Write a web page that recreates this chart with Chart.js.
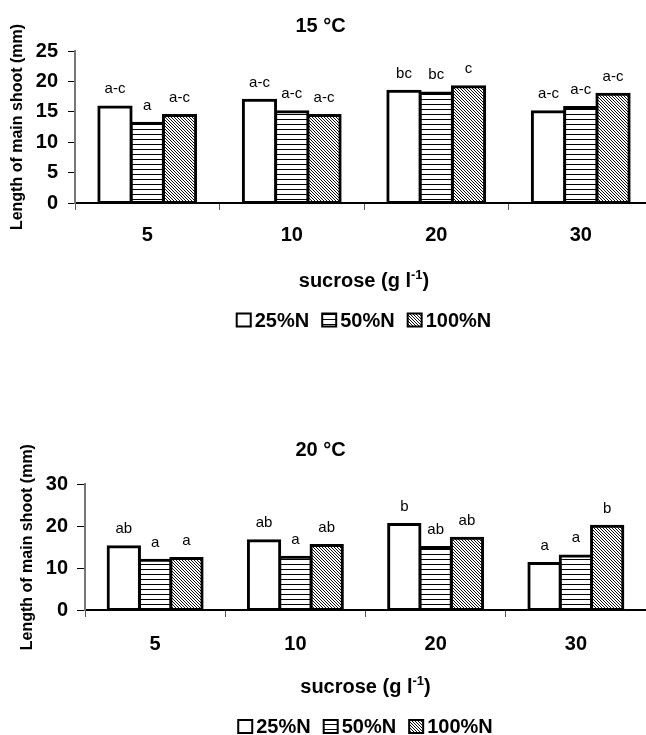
<!DOCTYPE html>
<html>
<head>
<meta charset="utf-8">
<script src="https://cdn.jsdelivr.net/npm/chart.js@4.4.1/dist/chart.umd.min.js"></script>
<style>
  body { margin: 0; background: #fff; overflow: hidden; width: 646px; height: 735px; position: relative; }
  canvas { position: absolute; left: 0; }
  #chart15 { top: 0; }
  #chart20 { top: 360px; }
</style>
</head>
<body>
<canvas id="chart15" width="660" height="360"></canvas>
<canvas id="chart20" width="646" height="375"></canvas>
<script>
var categories = ['5', '10', '20', '30'];
var seriesNames = ['25%N', '50%N', '100%N'];

// 15 °C
var shoot15_25 = [15.8, 16.9, 18.4, 15.0];
var shoot15_50 = [13.1, 15.0, 18.1, 15.7];
var shoot15_100 = [14.4, 14.4, 19.1, 17.9];
var letters15_25 = ['a-c', 'a-c', 'bc', 'a-c'];
var letters15_50 = ['a', 'a-c', 'bc', 'a-c'];
var letters15_100 = ['a-c', 'a-c', 'c', 'a-c'];

// 20 °C
var shoot20_25 = [15.1, 16.5, 20.4, 11.1];
var shoot20_50 = [11.9, 12.6, 14.9, 12.9];
var shoot20_100 = [12.3, 15.4, 17.1, 20.0];
var letters20_25 = ['ab', 'ab', 'b', 'a'];
var letters20_50 = ['a', 'a', 'ab', 'a'];
var letters20_100 = ['a', 'ab', 'ab', 'b'];

var FONT = "'Liberation Sans', Arial, sans-serif";

function makePattern(kind) {
    var c = document.createElement('canvas');
    var g = c.getContext('2d');
    if (kind === 'h') {
        c.width = 5; c.height = 5;
        g.fillStyle = '#fff'; g.fillRect(0, 0, 5, 5);
        g.fillStyle = '#000'; g.fillRect(0, 4, 5, 1);
    } else {
        c.width = 3; c.height = 3;
        g.fillStyle = '#fff'; g.fillRect(0, 0, 3, 3);
        g.fillStyle = '#111';
        for (var i = 0; i < 3; i++) g.fillRect(i, i, 1, 1);
    }
    return g.createPattern(c, 'repeat');
}

var fills = ['#ffffff', makePattern('h'), makePattern('d')];

// title, x axis title with superscript, legend and letters over the bars
var textPlugin = {
    id: 'texts',
    afterDatasetsDraw: function (chart) {
        var ctx = chart.ctx;
        var o = chart.options.plugins.texts;
        ctx.save();
        ctx.fillStyle = '#000';
        ctx.textBaseline = 'alphabetic';

        // letters
        ctx.font = '15px ' + FONT;
        ctx.textAlign = 'center';
        chart.data.datasets.forEach(function (ds, i) {
            chart.getDatasetMeta(i).data.forEach(function (bar, j) {
                ctx.fillText(ds.letters[j], bar.x, bar.y - 13.5);
            });
        });

        // title
        ctx.font = 'bold 20px ' + FONT;
        ctx.fillText(o.title, o.titleX, o.titleY);

        // x axis title
        var area = chart.chartArea;
        var cx = (area.left + area.right) / 2;
        var part1 = 'sucrose (g l', sup = '-1', part2 = ')';
        ctx.font = 'bold 20px ' + FONT;
        var w1 = ctx.measureText(part1).width;
        var w3 = ctx.measureText(part2).width;
        ctx.font = 'bold 13px ' + FONT;
        var w2 = ctx.measureText(sup).width;
        var x = cx - (w1 + w2 + w3) / 2;
        ctx.textAlign = 'left';
        ctx.font = 'bold 20px ' + FONT;
        ctx.fillText(part1, x, o.xTitleY);
        ctx.font = 'bold 13px ' + FONT;
        ctx.fillText(sup, x + w1, o.xTitleY - 8);
        ctx.font = 'bold 20px ' + FONT;
        ctx.fillText(part2, x + w1 + w2, o.xTitleY);

        // legend
        var boxW = 14, boxH = 13, gap = 4, spacing = 13;
        var widths = chart.data.datasets.map(function (ds) { return ctx.measureText(ds.label).width; });
        var total = 0;
        widths.forEach(function (w) { total += boxW + gap + w; });
        total += spacing * (widths.length - 1);
        var lx = cx - total / 2;
        var ly = o.legendY;
        chart.data.datasets.forEach(function (ds, i) {
            ctx.fillStyle = ds.backgroundColor;
            ctx.fillRect(lx, ly - boxH, boxW, boxH);
            ctx.strokeStyle = '#000';
            ctx.lineWidth = 2;
            ctx.strokeRect(lx, ly - boxH, boxW, boxH);
            ctx.fillStyle = '#000';
            ctx.fillText(ds.label, lx + boxW + gap, ly);
            lx += boxW + gap + widths[i] + spacing;
        });
        ctx.restore();
    }
};

function createChart(id, values, letters, cfg) {
    var datasets = values.map(function (v, i) {
        return {
            label: seriesNames[i],
            data: v,
            letters: letters[i],
            backgroundColor: fills[i],
            borderColor: '#000',
            borderWidth: 3,
            borderSkipped: false,
            inflateAmount: 1.5,
            categoryPercentage: 0.67,
            barPercentage: 1
        };
    });

    var ctx = document.getElementById(id).getContext('2d');
    return new Chart(ctx, {
        type: 'bar',
        data: { labels: categories, datasets: datasets },
        plugins: [textPlugin],
        options: {
            responsive: false,
            animation: false,
            events: [],
            layout: { padding: { top: cfg.top, right: cfg.right, left: 0, bottom: 0 } },
            plugins: {
                legend: { display: false },
                tooltip: { enabled: false },
                texts: cfg.texts
            },
            scales: {
                x: {
                    grid: { drawOnChartArea: false, tickLength: 7, color: '#555', lineWidth: 1 },
                    border: { color: '#000', width: 2 },
                    ticks: { color: '#000', padding: cfg.xPad, font: { family: FONT, size: 20, weight: 'bold' } },
                    afterFit: function (s) { s.height = cfg.xHeight; }
                },
                y: {
                    min: 0,
                    max: cfg.max,
                    ticks: { stepSize: cfg.step, color: '#000', padding: cfg.yPad, font: { family: FONT, size: 20, weight: 'bold' } },
                    grid: { drawOnChartArea: false, tickLength: cfg.tick, color: '#000', lineWidth: 1 },
                    border: { color: '#777', width: 2 },
                    title: {
                        display: true,
                        text: 'Length of main shoot (mm)',
                        color: '#000',
                        padding: { top: cfg.yTitlePad, bottom: 0 },
                        font: { family: FONT, size: 16, weight: 'bold' }
                    },
                    afterFit: function (s) { s.width = cfg.yWidth; }
                }
            }
        }
    });
}

var chart15 = createChart('chart15',
    [shoot15_25, shoot15_50, shoot15_100],
    [letters15_25, letters15_50, letters15_100],
    {
        top: 51, right: 7, xHeight: 360 - 203, yWidth: 75,
        max: 25, step: 5, tick: 7, yPad: 10, xPad: 13, yTitlePad: 8,
        texts: { title: '15 °C', titleX: 320.5, titleY: 31.7, xTitleY: 286.7, legendY: 326.5 }
    });

var chart20 = createChart('chart20',
    [shoot20_25, shoot20_50, shoot20_100],
    [letters20_25, letters20_50, letters20_100],
    {
        top: 124.3, right: 0, xHeight: 375 - 250, yWidth: 85,
        max: 30, step: 10, tick: 8, yPad: 9, xPad: 15, yTitlePad: 18,
        texts: { title: '20 °C', titleX: 320.5, titleY: 95.7, xTitleY: 333.3, legendY: 373 }
    });
</script>
</body>
</html>
